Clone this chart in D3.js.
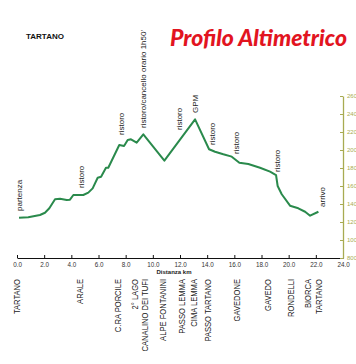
<!DOCTYPE html>
<html><head><meta charset="utf-8">
<script src="https://cdn.jsdelivr.net/npm/d3@7"></script>
<style>html,body{margin:0;padding:0;background:#fff;overflow:hidden}</style>
</head><body>
<svg id="c" width="356" height="364"></svg>
<script>
// ---- data ----
const distKm = [0.15,0.83,1.69,2.06,2.38,2.80,3.17,3.66,3.90,4.15,4.88,5.25,5.57,5.94,6.19,6.55,6.72,7.53,7.88,8.15,8.39,8.81,9.30,10.85,13.11,14.14,14.58,15.19,15.81,16.37,17.03,17.89,18.63,19.07,19.19,19.49,20.10,20.71,21.21,21.58,22.19];
const elevM  = [1248,1252,1278,1303,1352,1452,1459,1444,1448,1500,1500,1526,1574,1692,1703,1803,1803,2056,2044,2111,2119,2081,2174,1881,2341,2008,1981,1952,1926,1859,1844,1803,1759,1722,1600,1508,1381,1352,1314,1270,1314];
const noteText = ["partenza","ristoro","ristoro","ristoro/cancello orario 1h50'","ristoro","GPM","ristoro","ristoro","ristoro","arrivo"];
const noteKm   = [0.15,4.76,7.64,9.31,11.95,13.1,14.34,16.13,19.17,22.44];
const noteElev = [1322,1578,2167,2244,2222,2411,2056,1956,1756,1367];
const placeText = [["TARTANO"],["ARALE"],["C.RA PORCILE"],["2° LAGO"],["CANALINO DEI TUFI"],["ALPE FONTANINI"],["PASSO LEMMA"],["CIMA LEMMA"],["PASSO TARTANO"],["GAVEDONE"],["GAVEDO"],["RONDELLI"],["BIORCA","TARTANO"]];
const placeKm   = [-0.05,4.64,7.44,8.69,9.43,10.75,12.13,12.98,14.01,16.18,18.46,20.15,21.8];
const xTicks = [0,2,4,6,8,10,12,14,16,18,20,22,24];
const yTicks = [800,1000,1200,1400,1600,1800,2000,2200,2400,2600];
const title = "Profilo Altimetrico";
const subtitle = "TARTANO";
const xTitle = "Distanza km";

// ---- chart ----
const svg = d3.select("#c");
svg.append("rect").attr("width",356).attr("height",364).attr("fill","#fff");
const x = d3.scaleLinear().domain([0,24]).range([17,343]);
const y = d3.scaleLinear().domain([800,2600]).range([258,96]);

// x axis
const xa = svg.append("g").attr("transform","translate(0,258)")
  .call(d3.axisBottom(x).tickValues(xTicks).tickSize(-3).tickSizeOuter(0).tickFormat(d3.format(".1f")));
xa.select(".domain").attr("stroke","#111").attr("stroke-width",1.2);
xa.selectAll(".tick line").attr("stroke","#111").attr("stroke-width",1);
xa.selectAll(".tick text").attr("y",5).attr("font-family","Liberation Sans, Arial, sans-serif")
  .attr("font-size",6.3).attr("fill","#333");
svg.append("text").attr("x",174).attr("y",273.5).attr("text-anchor","middle")
  .attr("font-family","Liberation Sans, Arial, sans-serif").attr("font-weight","bold")
  .attr("font-size",6).attr("fill","#222").text(xTitle);

// right y axis
const ya = svg.append("g").attr("transform","translate(343,0)")
  .call(d3.axisRight(y).tickValues(yTicks).tickSize(-3).tickSizeOuter(0).tickFormat(d3.format("d")));
ya.select(".domain").attr("stroke","#a8ab52").attr("stroke-width",1.3);
ya.selectAll(".tick line").attr("stroke","#a8ab52");
ya.selectAll(".tick text").attr("x",4).attr("font-family","Liberation Sans, Arial, sans-serif")
  .attr("font-size",6).attr("fill","#a8ab52");

// profile line
const pts = distKm.map((d,i)=>[d,elevM[i]]);
svg.append("path").datum(pts)
  .attr("d",d3.line().x(d=>x(d[0])).y(d=>y(d[1])))
  .attr("fill","none").attr("stroke","#2a8a4c").attr("stroke-width",2).attr("stroke-linejoin","round");

// notes above profile
svg.selectAll("text.note").data(noteText).join("text").attr("class","note")
  .attr("transform",(d,i)=>`translate(${x(noteKm[i])},${y(noteElev[i])}) rotate(-90)`)
  .attr("dy","0.35em")
  .attr("font-family","Liberation Sans, Arial, sans-serif").attr("font-size",8).attr("fill","#222")
  .text(d=>d);

// place names under axis
placeText.forEach((lines,i)=>{
  lines.forEach((t,j)=>{
    const cx = x(placeKm[i]) + (j-(lines.length-1)/2)*11;
    svg.append("text")
      .attr("transform",`translate(${cx},279) rotate(-90) scale(0.8,1)`)
      .attr("dy","0.35em").attr("text-anchor","end")
      .attr("font-family","Liberation Sans, Arial, sans-serif").attr("font-size",9.5).attr("fill","#222")
      .text(t);
  });
});

// titles
svg.append("text").attr("x",26).attr("y",39).attr("font-family","Liberation Sans, Arial, sans-serif")
  .attr("font-weight","bold").attr("font-size",8).attr("fill","#111").text(subtitle);
svg.append("text").attr("x",170).attr("y",46).attr("font-family","Lato, sans-serif")
  .attr("font-weight",900).attr("font-style","italic").attr("font-size",22)
  .attr("textLength",177).attr("lengthAdjust","spacingAndGlyphs")
  .attr("fill","#e2141f").text(title);
</script>
</body></html>
